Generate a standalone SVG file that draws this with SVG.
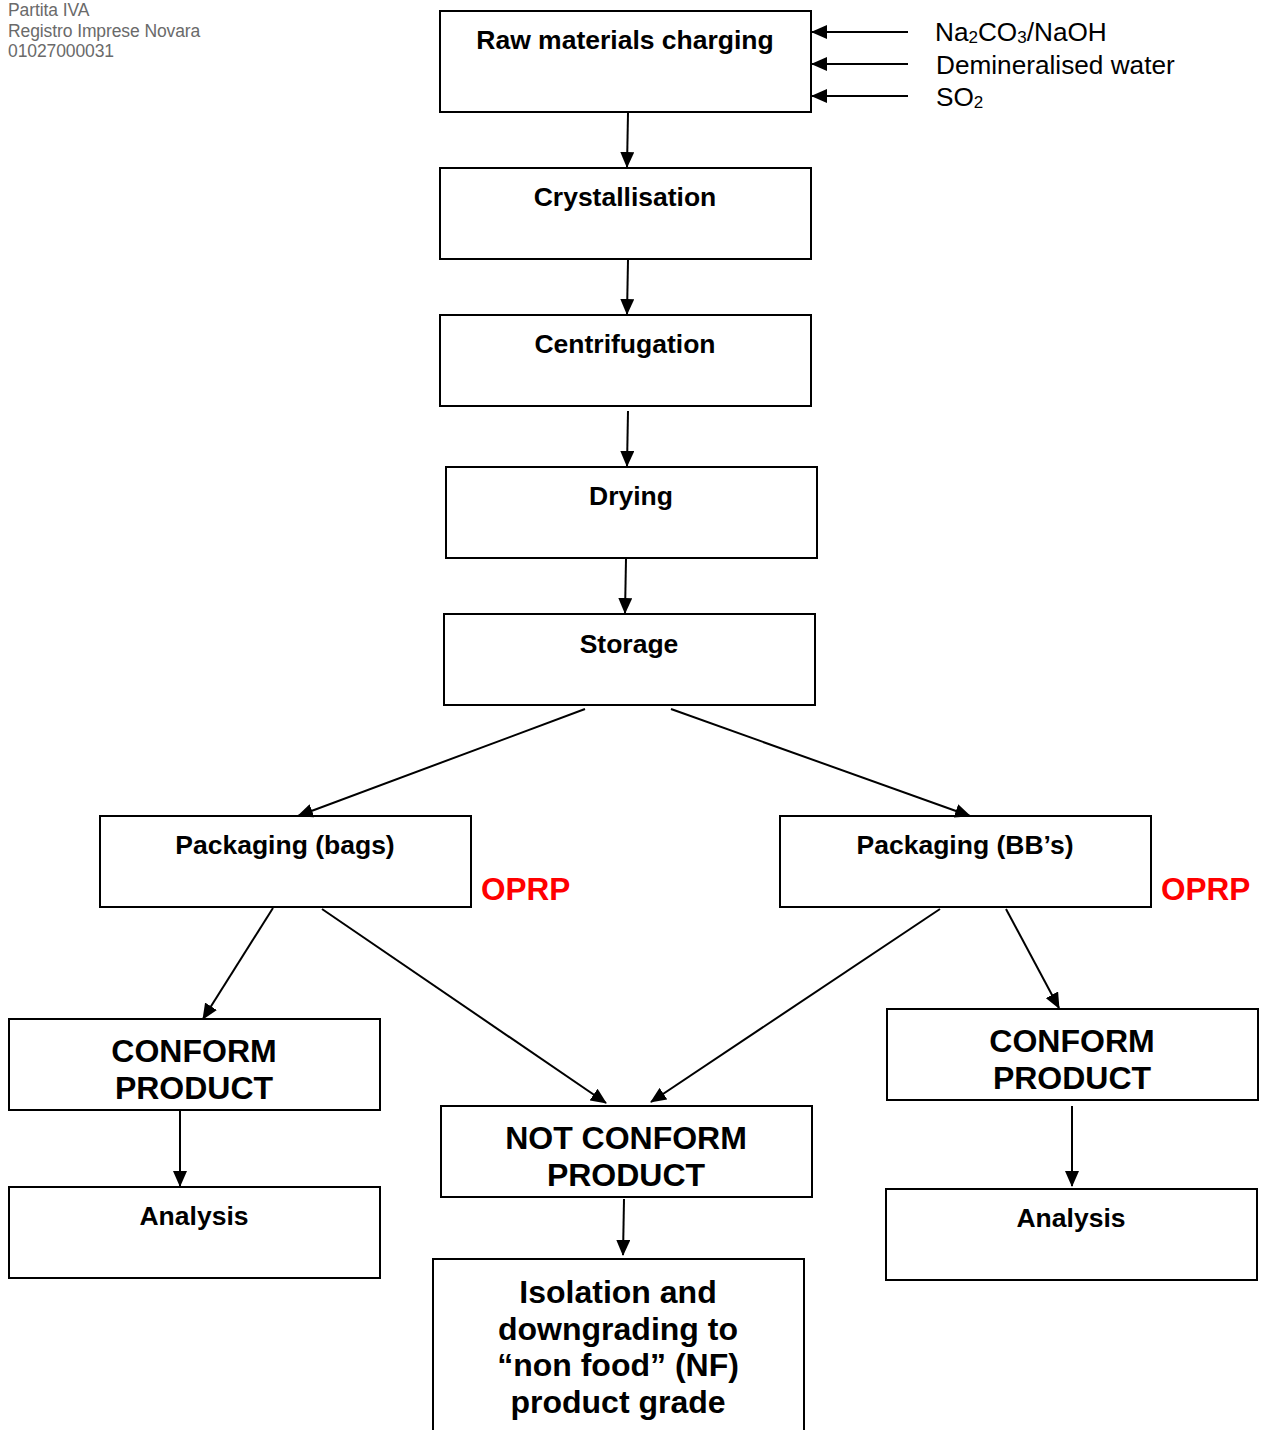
<svg xmlns="http://www.w3.org/2000/svg" width="1263" height="1430" viewBox="0 0 1263 1430">
<style>
.box{fill:#fff;stroke:#000;stroke-width:2}
.t{font-family:"Liberation Sans",Arial,sans-serif;font-weight:bold;font-size:26.5px;text-anchor:middle;fill:#000}
.b{font-family:"Liberation Sans",Arial,sans-serif;font-weight:bold;font-size:32px;text-anchor:middle;fill:#000}
.r{font-family:"Liberation Sans",Arial,sans-serif;font-weight:bold;font-size:31.5px;fill:#ff0000}
.s{font-family:"Liberation Sans",Arial,sans-serif;font-size:26.2px;fill:#000}
.h{font-family:"Liberation Sans",Arial,sans-serif;font-size:17.5px;fill:#6a6a6a;letter-spacing:-0.1px}
.c line{stroke:#000;stroke-width:2;marker-end:url(#ah)}
</style>
<defs>
<marker id="ah" markerUnits="userSpaceOnUse" markerWidth="16" markerHeight="14" refX="15" refY="7" orient="auto">
<path d="M0,0 L16,7 L0,14 Z" fill="#000"/>
</marker>
</defs>
<rect width="1263" height="1430" fill="#fff"/>
<g id="header">
<text class="h" x="8" y="16">Partita IVA</text>
<text class="h" x="8" y="37">Registro Imprese Novara</text>
<text class="h" x="8" y="57">01027000031</text>
</g>
<g id="n-raw"><rect class="box" x="440" y="11" width="371" height="101"/><text class="t" x="625" y="49">Raw materials charging</text></g>
<g id="n-cryst"><rect class="box" x="440" y="168" width="371" height="91"/><text class="t" x="625" y="206">Crystallisation</text></g>
<g id="n-centr"><rect class="box" x="440" y="315" width="371" height="91"/><text class="t" x="625" y="353">Centrifugation</text></g>
<g id="n-dry"><rect class="box" x="446" y="467" width="371" height="91"/><text class="t" x="631" y="505">Drying</text></g>
<g id="n-stor"><rect class="box" x="444" y="614" width="371" height="91"/><text class="t" x="629" y="653">Storage</text></g>
<g id="n-pbags"><rect class="box" x="100" y="816" width="371" height="91"/><text class="t" x="285" y="854">Packaging (bags)</text></g>
<g id="n-pbb"><rect class="box" x="780" y="816" width="371" height="91"/><text class="t" x="965" y="854">Packaging (BB’s)</text></g>
<g id="oprp1"><text class="r" x="481" y="900">OPRP</text></g>
<g id="oprp2"><text class="r" x="1161" y="900">OPRP</text></g>
<g id="n-confL"><rect class="box" x="9" y="1019" width="371" height="91"/><text class="b" x="194" y="1062">CONFORM</text><text class="b" x="194" y="1099">PRODUCT</text></g>
<g id="n-confR"><rect class="box" x="887" y="1009" width="371" height="91"/><text class="b" x="1072" y="1052">CONFORM</text><text class="b" x="1072" y="1089">PRODUCT</text></g>
<g id="n-notconf"><rect class="box" x="441" y="1106" width="371" height="91"/><text class="b" x="626" y="1149">NOT CONFORM</text><text class="b" x="626" y="1186">PRODUCT</text></g>
<g id="n-anL"><rect class="box" x="9" y="1187" width="371" height="91"/><text class="t" x="194" y="1225">Analysis</text></g>
<g id="n-anR"><rect class="box" x="886" y="1189" width="371" height="91"/><text class="t" x="1071" y="1227">Analysis</text></g>
<g id="n-iso"><rect class="box" x="433" y="1259" width="371" height="180"/>
<text class="b" x="618" y="1303">Isolation and</text>
<text class="b" x="618" y="1340">downgrading to</text>
<text class="b" x="618" y="1376">“non food” (NF)</text>
<text class="b" x="618" y="1413">product grade</text></g>
<g id="inputs">
<text class="s" x="935" y="41">Na<tspan font-size="17" dy="2">2</tspan><tspan dy="-2">CO</tspan><tspan font-size="17" dy="2">3</tspan><tspan dy="-2">/NaOH</tspan></text>
<text class="s" x="936" y="74">Demineralised water</text>
<text class="s" x="936" y="106">SO<tspan font-size="17" dy="2">2</tspan></text>
</g>
<g id="connectors" class="c">
<line x1="908" y1="32" x2="812" y2="32"/>
<line x1="908" y1="64" x2="812" y2="64"/>
<line x1="908" y1="96" x2="812" y2="96"/>
<line x1="628" y1="113" x2="627" y2="167"/>
<line x1="628" y1="260" x2="627" y2="314"/>
<line x1="628" y1="411" x2="627" y2="466"/>
<line x1="626" y1="559" x2="625" y2="613"/>
<line x1="585" y1="709" x2="298" y2="816"/>
<line x1="671" y1="709" x2="970" y2="816"/>
<line x1="273" y1="908" x2="203" y2="1019"/>
<line x1="322" y1="909" x2="606" y2="1103"/>
<line x1="940" y1="909" x2="651" y2="1102"/>
<line x1="1006" y1="909" x2="1059" y2="1008"/>
<line x1="180" y1="1111" x2="180" y2="1186"/>
<line x1="1072" y1="1106" x2="1072" y2="1186"/>
<line x1="624" y1="1199" x2="623" y2="1255"/>
</g>
</svg>
